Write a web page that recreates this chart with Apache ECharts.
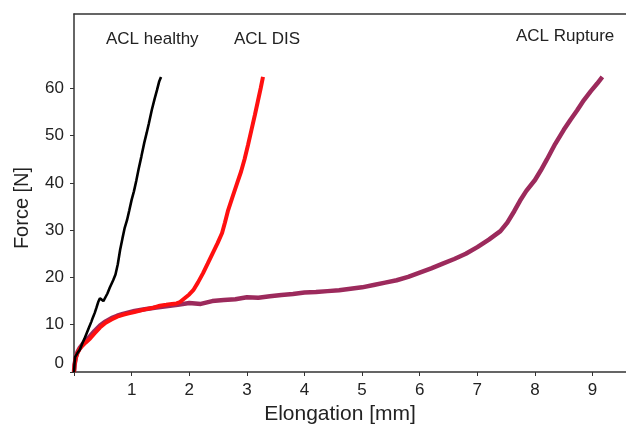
<!DOCTYPE html>
<html>
<head>
<meta charset="utf-8">
<script src="https://cdn.jsdelivr.net/npm/echarts@6/dist/echarts.min.js"></script>
<style>html,body{margin:0;padding:0;background:#fff}#c{width:626px;height:431px}</style>
</head>
<body>
<div id="c"></div>
<script>
var healthy = [[0,0],[0.01,2.0],[0.02,3.2],[0.06,4.0],[0.1,4.7],[0.14,5.9],[0.18,7.0],[0.22,8.2],[0.26,9.4],[0.3,10.6],[0.33,11.6],[0.36,12.5],[0.39,13.6],[0.42,14.8],[0.45,15.6],[0.48,15.3],[0.51,15.0],[0.54,15.2],[0.58,16.6],[0.62,17.8],[0.65,18.6],[0.68,19.4],[0.72,20.6],[0.76,22.8],[0.8,25.8],[0.84,28.2],[0.88,30.5],[0.92,32.1],[0.96,34.2],[1.0,36.4],[1.04,38.2],[1.08,40.4],[1.12,42.8],[1.17,45.6],[1.22,48.5],[1.26,50.5],[1.3,52.6],[1.35,55.4],[1.4,57.8],[1.44,59.6],[1.48,61.5],[1.51,62.4]];
var dis = [[0,0],[0.01,1.5],[0.03,3.0],[0.06,4.0],[0.1,4.9],[0.15,5.6],[0.2,6.2],[0.28,7.1],[0.36,8.2],[0.45,9.4],[0.55,10.4],[0.65,11.1],[0.75,11.7],[0.85,12.1],[0.95,12.4],[1.05,12.7],[1.15,13.0],[1.25,13.3],[1.38,13.6],[1.49,14.0],[1.6,14.2],[1.7,14.4],[1.78,14.5],[1.84,14.8],[1.92,15.6],[2.0,16.4],[2.07,17.3],[2.15,18.9],[2.24,20.9],[2.32,22.9],[2.41,25.2],[2.49,27.2],[2.57,29.4],[2.62,31.6],[2.67,34.0],[2.75,37.0],[2.83,39.9],[2.9,42.4],[2.96,45.0],[3.02,48.0],[3.08,51.2],[3.14,54.4],[3.19,57.2],[3.24,60.0],[3.28,62.4]];
var rupture = [[0,0],[0.01,1.5],[0.03,3.0],[0.06,4.2],[0.1,5.1],[0.15,5.9],[0.2,6.6],[0.28,7.6],[0.36,8.7],[0.45,9.8],[0.55,10.7],[0.65,11.4],[0.75,11.9],[0.85,12.3],[0.95,12.6],[1.05,12.9],[1.2,13.2],[1.4,13.6],[1.6,13.9],[1.8,14.2],[2.0,14.6],[2.2,14.4],[2.4,15.0],[2.6,15.2],[2.8,15.4],[3.0,15.8],[3.2,15.7],[3.4,16.0],[3.6,16.3],[3.8,16.5],[4.0,16.8],[4.2,16.9],[4.4,17.1],[4.6,17.3],[4.8,17.6],[5.0,17.9],[5.2,18.4],[5.4,18.9],[5.6,19.4],[5.8,20.1],[6.0,21.0],[6.2,21.9],[6.4,22.9],[6.6,23.9],[6.8,25.0],[7.0,26.4],[7.2,28.0],[7.4,29.8],[7.52,31.6],[7.64,34.0],[7.74,36.2],[7.85,38.3],[8.0,40.6],[8.1,42.6],[8.21,45.0],[8.35,48.2],[8.5,51.2],[8.62,53.4],[8.73,55.3],[8.85,57.5],[8.97,59.4],[9.08,61.0],[9.17,62.4]];
var xTicks = [0,1,2,3,4,5,6,7,8,9];
var xLabels = [1,2,3,4,5,6,7,8,9];
var yTicks = [0,10,20,30,40,50,60];
var curveLabels = [
  {text:'ACL healthy', x:106, y:40},
  {text:'ACL DIS', x:234, y:40},
  {text:'ACL Rupture', x:516, y:37}
];

var font = '"Liberation Sans", Arial, sans-serif';
var chart = echarts.init(document.getElementById('c'), null, {renderer:'canvas'});
chart.setOption({
  backgroundColor:'#fff',
  animation:false,
  grid:{left:74, right:0, top:14, bottom:59, containLabel:false},
  xAxis:[{
    type:'value', min:0, max:9.58, interval:1,
    name:'Elongation [mm]', nameLocation:'middle', nameGap:32,
    nameTextStyle:{fontFamily:font, fontSize:21, color:'#222', padding:[0,20,0,0]},
    axisLine:{show:true, lineStyle:{color:'#333', width:1.5}},
    axisTick:{show:true, length:4, customValues:xTicks, lineStyle:{color:'#333'}},
    axisLabel:{fontFamily:font, fontSize:17, color:'#222', margin:10, customValues:xLabels},
    splitLine:{show:false}
  },{
    type:'value', position:'top', min:0, max:9.58,
    axisLine:{show:true, lineStyle:{color:'#333', width:1.5}},
    axisTick:{show:false}, axisLabel:{show:false}, splitLine:{show:false}
  }],
  yAxis:{
    type:'value', min:0, max:75.7, interval:10,
    name:'Force [N]', nameLocation:'middle', nameGap:42,
    nameTextStyle:{fontFamily:font, fontSize:20, color:'#222', padding:[0,30,0,0]},
    axisLine:{show:true, lineStyle:{color:'#333', width:1.5}},
    axisTick:{show:true, length:4, customValues:yTicks, lineStyle:{color:'#333'}},
    axisLabel:{fontFamily:font, fontSize:17, color:'#222', margin:10, customValues:yTicks, verticalAlignMinLabel:'bottom'},
    splitLine:{show:false}
  },
  series:[
    {type:'line', name:'ACL Rupture', data:rupture, showSymbol:false, lineStyle:{color:'#9c2a5c', width:4.5}, z:1},
    {type:'line', name:'ACL DIS', data:dis, showSymbol:false, lineStyle:{color:'#ff1010', width:4}, z:2},
    {type:'line', name:'ACL healthy', data:healthy, showSymbol:false, lineStyle:{color:'#000', width:2.6}, z:3}
  ],
  graphic: curveLabels.map(function(l){
    return {type:'text', left:l.x, top:l.y-9, style:{text:l.text, font:'17px '+font, fill:'#222'}};
  })
});
</script>
</body>
</html>
